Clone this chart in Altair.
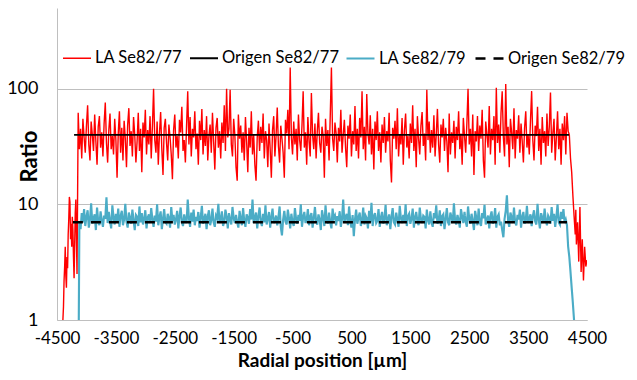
import altair as alt
import pandas as pd

series_names = ["LA Se82/77", "Origen Se82/77", "LA Se82/79", "Origen Se82/79"]
series_colors = ["#FF0000", "#000000", "#4BACC6", "#000000"]
x_ticks = [-4500, -3500, -2500, -1500, -500, 500, 1500, 2500, 3500, 4500]
y_ticks = [1, 10, 100]

# ---- LA Se82/77 (red) ----
red_left_x = [-4400, -4390, -4380, -4370, -4360, -4350, -4340, -4330, -4320, -4310,
              -4300, -4290, -4280, -4270, -4260, -4250, -4240, -4230, -4220, -4210,
              -4200, -4190, -4180, -4170, -4160]
red_left_y = [1.0, 1.3, 2.2, 2.9, 4.3, 2.4, 1.9, 3.5, 2.8, 5.5,
              7.5, 11.6, 10.5, 5.0, 6.8, 4.3, 7.8, 6.0, 3.5, 2.3,
              4.5, 8.5, 11.0, 5.0, 2.5]
red_main_start = -4140
red_main_step = 20
red_main_y = [
    62, 30, 45, 25, 55, 38, 28, 48, 72, 33, 24, 52, 40, 29, 60, 35, 22, 47, 58, 31,
    42, 26, 50, 76, 34, 23, 44, 61, 30, 39, 27, 55, 36, 17, 41, 64, 28, 46, 24, 53,
    37, 21, 49, 68, 32, 43, 26, 57, 40, 23, 35, 62, 29, 45, 19, 51, 38, 66, 27, 44,
    33, 58, 25, 47, 100, 36, 28, 52, 22, 41, 63, 30, 18, 46, 55, 34, 24, 49, 38, 27,
    16.5, 44, 60, 31, 39, 25, 54, 42, 70, 29, 36, 23, 48, 95, 33, 57, 26, 45, 38, 64,
    30, 41, 22, 53, 36, 67, 27, 44, 32, 58, 24, 39, 49, 28, 62, 35, 20, 46, 56, 31,
    43, 25, 51, 34, 72, 29, 100, 38, 45, 98, 33, 26, 55, 40, 21, 16, 60, 37, 48, 28,
    42, 24, 57, 35, 19, 46, 31, 64, 27, 40, 22, 16, 38, 53, 29, 47, 34, 61, 25, 43,
    36, 21, 50, 30, 17, 44, 58, 26, 39, 69, 32, 23, 48, 37, 28, 17, 54, 41, 66, 30,
    153, 38, 27, 52, 33, 45, 24, 60, 36, 29, 48, 95, 31, 42, 22, 57, 35, 26, 92, 40,
    30, 50, 25, 43, 62, 34, 28, 47, 39, 17, 55, 32, 44, 24, 58, 153, 37, 29, 51, 41,
    23, 46, 35, 66, 28, 40, 54, 31, 21, 48, 37, 60, 26, 43, 33, 71, 29, 45, 25, 56,
    38, 95, 30, 47, 24, 90, 41, 33, 59, 27, 45, 20, 52, 36, 64, 29, 42, 23, 49, 34,
    57, 28, 43, 35, 62, 24, 15.5, 46, 37, 53, 30, 68, 26, 40, 33, 56, 22, 44, 61, 31,
    39, 25, 50, 34, 72, 29, 45, 21, 58, 37, 27, 48, 63, 32, 41, 24, 98, 36, 52, 28,
    44, 31, 59, 26, 40, 67, 33, 23, 49, 38, 55, 29, 46, 35, 19, 61, 27, 42, 34, 53,
    25, 47, 36, 64, 30, 41, 22, 56, 39, 28, 50, 100, 33, 45, 26, 60, 18, 43, 35, 58,
    29, 48, 37, 66, 24, 17, 52, 40, 31, 71, 27, 45, 36, 58, 22, 102, 34, 49, 28, 62,
    95, 38, 26, 110, 33, 47, 21, 55, 42, 30, 68, 25, 44, 37, 59, 28, 50, 35, 23, 46,
    64, 31, 40, 27, 53, 95, 36, 24, 48, 39, 70, 29, 45, 22, 57, 34, 43, 26, 61, 32,
    47, 93, 28, 41, 55, 24, 38, 64, 30, 45, 22, 50, 36, 58, 27, 62, 43,
]
red_right_x = [4200, 4220, 4240, 4260, 4280, 4300, 4310, 4320, 4340, 4360,
               4380, 4400, 4420, 4440, 4460, 4480, 4500]
red_right_y = [40, 25, 19, 12, 8, 5.5, 9, 4.5, 7, 3.2,
               9.5, 2.6, 5, 2.2, 4.3, 2.9, 3.3]

# ---- LA Se82/79 (cyan) ----
cyan_left_x = [-4130]
cyan_left_y = [1.0]
cyan_main_start = -4120
cyan_main_step = 20
cyan_main_y = [
    7.2, 6.1, 8.4, 7.0, 9.1, 6.5, 7.8, 8.9, 6.3, 7.4, 10.2, 6.8, 7.6, 8.2, 6.0, 9.4, 7.1, 6.6, 8.7, 7.3,
    6.4, 8.0, 7.5, 11.5, 6.9, 8.6, 7.2, 6.2, 9.8, 7.7, 6.7, 8.3, 7.0, 9.2, 6.4, 7.9, 8.8, 6.6, 7.4, 10.1,
    7.1, 6.3, 8.5, 7.6, 6.8, 9.0, 7.3, 6.0, 8.1, 7.8, 6.5, 9.6, 7.0, 8.4, 6.7, 7.5, 8.9, 6.2, 7.7, 8.2,
    6.9, 9.3, 7.4, 6.4, 8.0, 7.1, 10.0, 6.6, 7.8, 8.7, 6.1, 7.5, 9.1, 7.0, 6.8, 8.3, 7.6, 6.3, 9.5, 7.2,
    8.1, 6.7, 7.4, 8.8, 6.2, 7.9, 9.4, 7.0, 6.5, 8.2, 7.3, 6.9, 11.0, 7.6, 6.4, 8.5, 7.1, 9.0, 6.6, 7.8,
    7.2, 8.6, 6.3, 7.7, 9.7, 6.8, 7.5, 8.3, 6.1, 7.9, 8.9, 6.6, 7.3, 9.2, 7.0, 6.4, 8.0, 7.6, 10.1, 6.9,
    7.4, 8.7, 6.5, 7.1, 9.0, 7.8, 6.2, 8.4, 7.3, 6.7, 9.5, 7.6, 6.9, 8.1, 7.0, 6.3, 8.8, 7.5, 6.6, 9.3,
    7.2, 6.4, 8.2, 7.7, 6.8, 9.1, 7.4, 11.0, 6.9, 7.6, 8.5, 6.2, 7.9, 9.4, 7.1, 6.5, 8.3, 7.0, 9.8, 6.7,
    7.5, 8.6, 6.3, 7.8, 9.2, 6.9, 7.3, 8.0, 6.6, 7.7, 9.6, 6.4, 5.4, 7.4, 8.8, 7.1, 6.7, 9.0, 7.6, 6.2,
    8.3, 7.0, 6.5, 9.3, 7.5, 6.8, 8.1, 7.2, 10.0, 6.4, 7.8, 8.6, 6.9, 7.4, 9.1, 6.6, 7.9, 8.4, 6.3, 7.6,
    9.5, 7.1, 6.7, 8.2, 7.4, 6.0, 8.9, 7.7, 6.5, 9.8, 7.3, 6.8, 8.5, 7.0, 6.2, 9.2, 7.6, 8.0, 6.6, 7.9,
    7.2, 8.7, 6.4, 7.5, 11.0, 6.9, 7.8, 8.3, 6.6, 9.6, 7.1, 6.3, 8.1, 5.3, 7.4, 9.0, 6.8, 7.7, 8.5, 6.5,
    7.3, 9.4, 6.7, 8.0, 7.6, 6.2, 8.8, 7.0, 10.3, 6.5, 7.9, 8.4, 6.9, 7.2, 9.1, 6.4, 7.7, 8.6, 6.8, 7.5,
    9.9, 6.6, 7.4, 8.2, 6.1, 7.8, 9.3, 7.0, 6.7, 8.5, 7.3, 6.4, 9.7, 7.6, 6.9, 8.1, 7.2, 10.0, 6.5, 7.9,
    8.3, 6.8, 7.5, 9.2, 6.3, 7.7, 8.6, 7.1, 6.6, 9.4, 7.4, 6.9, 8.0, 7.8, 6.2, 9.0, 7.3, 6.7, 8.7, 7.0,
    6.4, 8.4, 7.6, 9.8, 6.8, 7.2, 8.9, 6.5, 7.9, 8.2, 6.1, 7.5, 9.3, 7.0, 6.6, 8.5, 7.7, 6.9, 10.2, 7.3,
    6.7, 8.1, 7.4, 6.3, 9.1, 7.8, 6.9, 8.6, 7.1, 6.4, 9.6, 7.5, 6.8, 8.3, 7.2, 6.0, 8.8, 7.7, 6.6, 9.2,
    7.0, 6.5, 8.4, 7.6, 9.9, 6.7, 7.3, 8.0, 6.2, 7.9, 8.7, 6.8, 7.4, 9.3, 6.3, 7.8, 8.2, 6.6, 7.1, 6.0,
    5.2, 7.5, 8.8, 12.0, 7.2, 6.4, 8.5, 7.7, 6.9, 9.4, 7.0, 6.6, 8.1, 7.4, 9.0, 6.3, 7.8, 8.6, 6.8, 7.3,
    9.7, 6.9, 7.5, 8.2, 6.5, 7.9, 8.9, 7.1, 6.7, 10.1, 7.4, 6.2, 8.4, 7.7, 6.9, 9.2, 7.3, 6.6, 8.0, 7.6,
    6.8, 9.5, 7.2, 8.3, 6.4, 7.8, 10.0, 7.0, 6.7, 8.6, 7.5, 9.1, 6.9, 7.4,
]
cyan_right_x = [4160, 4180, 4200, 4220, 4240, 4260, 4280]
cyan_right_y = [6.6, 4.3, 3.5, 2.6, 1.9, 1.4, 1.0]

# ---- Origen model lines ----
origen77_x = [-4210, 4195]
origen77_y = [40, 40]
origen79_x = [-4230, 4160]
origen79_y = [7.0, 7.0]


def build(name, xs, ys):
    return pd.DataFrame({"series": name, "x": xs, "y": ys})


red_x = (red_left_x
         + [red_main_start + red_main_step * i for i in range(len(red_main_y))]
         + red_right_x)
red_y = red_left_y + red_main_y + red_right_y
cyan_x = (cyan_left_x
          + [cyan_main_start + cyan_main_step * i for i in range(len(cyan_main_y))]
          + cyan_right_x)
cyan_y = cyan_left_y + cyan_main_y + cyan_right_y

df = pd.concat([
    build(series_names[0], red_x, red_y),
    build(series_names[1], origen77_x, origen77_y),
    build(series_names[2], cyan_x, cyan_y),
    build(series_names[3], origen79_x, origen79_y),
], ignore_index=True)

FONT = "Lato"
legend_def = alt.Legend(title=None, orient="none", legendX=5, legendY=35,
                        direction="horizontal")

enc = dict(
    x=alt.X("x:Q",
            scale=alt.Scale(domain=[-4500, 4500], nice=False, zero=False),
            axis=alt.Axis(values=x_ticks, title="Radial position [µm]", grid=False,
                          ticks=False, labelPadding=10, labelFontSize=17,
                          domainColor="#BFBFBF",
                          labelFlush=False, labelExpr="'' + datum.value",
                          titleY=46, titleBaseline="alphabetic", titleFontSize=19)),
    y=alt.Y("y:Q",
            scale=alt.Scale(type="log", domain=[1, 500], nice=False),
            axis=alt.Axis(values=y_ticks, title="Ratio", grid=True, gridColor="#BFBFBF",
                          ticks=False, labelPadding=19, domainColor="#BFBFBF",
                          format="d", titleX=-16, titleY=148, titleFontSize=22)),
    color=alt.Color("series:N",
                    scale=alt.Scale(domain=series_names, range=series_colors),
                    legend=legend_def),
    strokeDash=alt.StrokeDash("series:N",
                              scale=alt.Scale(domain=series_names,
                                              range=[[1, 0], [1, 0], [1, 0], [10, 8]]),
                              legend=legend_def),
    strokeWidth=alt.StrokeWidth("series:N",
                                scale=alt.Scale(domain=series_names, range=[1.4, 2.5, 1.3, 2.5]),
                                legend=legend_def),
)

layers = [
    alt.Chart(df).transform_filter(alt.datum.series == s).mark_line(clip=True).encode(**enc)
    for s in series_names
]

chart = alt.layer(*layers).properties(
    width=530, height=312,
    autosize=alt.AutoSizeParams(type="none"),
    padding={"left": 49, "top": 0, "right": 42, "bottom": 52},
).configure_view(stroke=None).configure_axis(
    labelFont=FONT, labelFontSize=18, labelColor="#000000",
    titleFont=FONT, titleFontSize=21, titleFontWeight="bold", titleColor="#000000",
).configure_legend(
    labelFont=FONT, labelFontSize=16.5, labelColor="#000000",
    symbolType="stroke", symbolSize=784, labelOffset=3, columnPadding=3,
    padding=0,
)

chart.save("out.html", embed_options={"renderer": "svg", "actions": False})
